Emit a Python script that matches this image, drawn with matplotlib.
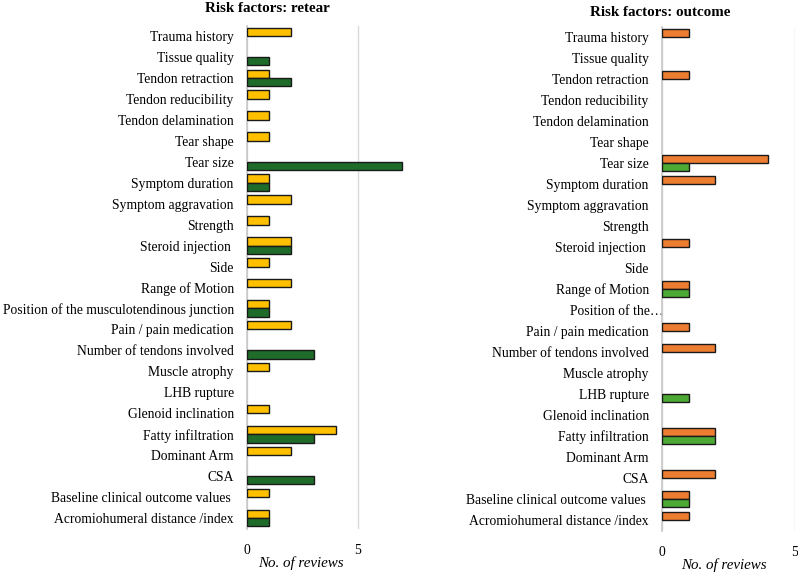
import matplotlib
matplotlib.use("Agg")
import matplotlib.pyplot as plt
import matplotlib.transforms as mtransforms
import numpy as np

plt.rcParams['font.family'] = ['Liberation Serif', 'DejaVu Serif']

# categories, top to bottom
categories = [
    "Trauma history", "Tissue quality", "Tendon retraction", "Tendon reducibility",
    "Tendon delamination", "Tear shape", "Tear size", "Symptom duration",
    "Symptom aggravation", "Strength", "Steroid injection ", "Side",
    "Range of Motion", "Position of the musculotendinous junction",
    "Pain / pain medication", "Number of tendons involved", "Muscle atrophy",
    "LHB rupture", "Glenoid inclination", "Fatty infiltration", "Dominant Arm",
    "CSA", "Baseline clinical outcome values ", "Acromiohumeral distance /index",
]
categories_right = categories.copy()
categories_right[13] = "Position of the…"

# Risk factors: retear
retear_a = [2, 0, 1, 1, 1, 1, 0, 1, 2, 1, 2, 1, 2, 1, 2, 0, 1, 0, 1, 4, 2, 0, 1, 1]
retear_b = [0, 1, 2, 0, 0, 0, 7, 1, 0, 0, 2, 0, 0, 1, 0, 3, 0, 0, 0, 3, 0, 3, 0, 1]

# Risk factors: outcome
outcome_a = [1, 0, 1, 0, 0, 0, 4, 2, 0, 0, 1, 0, 1, 0, 1, 2, 0, 0, 0, 2, 0, 2, 1, 1]
outcome_b = [0, 0, 0, 0, 0, 0, 1, 0, 0, 0, 0, 0, 1, 0, 0, 0, 0, 1, 0, 2, 0, 0, 1, 0]

W, H = 798, 572
fig = plt.figure(figsize=(W / 100, H / 100), dpi=100)

# axes boxes in pixels: left, top, right, bottom
ax1 = fig.add_axes([247 / W, 1 - 528.5 / H, (404.6 - 247) / W, 503 / H])
ax2 = fig.add_axes([662 / W, 1 - 530.5 / H, (795 - 662) / W, 504 / H])

bar_h = 0.4
y = np.arange(len(categories))


def draw_panel(ax, labels, vals_a, vals_b, col_a, col_b, xmax, xlabel_pos):
    ax.xaxis.grid(True, color='#D9D9D9', linewidth=1.0, zorder=0)
    ax.set_axisbelow(True)
    ax.axvline(0, color='#C8C8C8', linewidth=1.2, zorder=1, clip_on=False)
    for vals, off, col in [(vals_a, -bar_h / 2, col_a), (vals_b, bar_h / 2, col_b)]:
        lws = [1.0 if v > 0 else 0 for v in vals]
        ax.barh(y + off, vals, bar_h, color=col, edgecolor='#1a1a1a', linewidth=lws, zorder=3)
    ax.set_ylim(len(labels) - 0.5, -0.5)
    ax.set_xlim(0, xmax)
    ax.set_yticks(y)
    ax.set_yticklabels(labels, fontsize=9.8)
    ax.set_xticks([0, 5])
    ax.tick_params(axis='both', length=0, labelsize=9.8)
    ax.tick_params(axis='y', pad=9.5)
    ax.tick_params(axis='x', pad=11)
    for s in ax.spines.values():
        s.set_visible(False)
    ax.set_xlabel("No. of reviews", fontsize=10.8, style='italic')
    ax.xaxis.set_label_coords(xlabel_pos, -0.055)


draw_panel(ax1, categories, retear_a, retear_b, '#FFC000', '#1E6B2A', 7.1, 0.343)
draw_panel(ax2, categories_right, outcome_a, outcome_b, '#ED7D31', '#4CA934', 5.0, 0.466)

# truncated label in the right panel sits a little further right
lbl = ax2.get_yticklabels()[13]
lbl.set_transform(lbl.get_transform() + mtransforms.ScaledTranslation(15 / 100, 0, fig.dpi_scale_trans))

fig.text(267 / W, 1 - 8 / H, "Risk factors: retear", ha='center', va='center', fontsize=10.8, fontweight='bold')
fig.text(660 / W, 1 - 13 / H, "Risk factors: outcome", ha='center', va='center', fontsize=10.8, fontweight='bold')

fig.savefig("out.png", dpi=100)
